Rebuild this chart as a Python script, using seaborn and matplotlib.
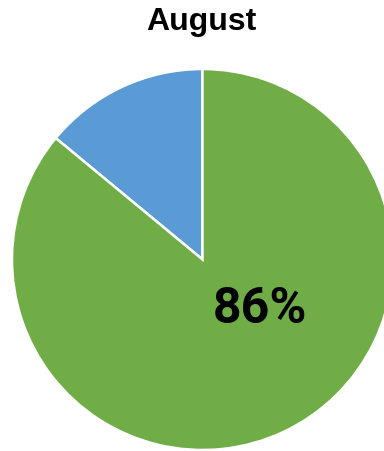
import matplotlib
matplotlib.use("Agg")
import matplotlib.pyplot as plt
import seaborn as sns

categories = ["Other", "Yes"]
values = [14, 86]
colors = ["#5B9BD5", "#70AD47"]
title = "August"
label_text = "86%"

sns.set_theme(style="white")
plt.rcParams["font.family"] = ["Liberation Sans", "DejaVu Sans"]

fig = plt.figure(figsize=(3.84, 4.51), dpi=100)
W, H = 384, 451
cx, cy, r = 202.5, 259.5, 190.5
ax = fig.add_axes([(cx - r) / W, 1 - (cy + r) / H, 2 * r / W, 2 * r / H])
ax.pie(values, colors=colors, startangle=90, counterclock=True,
       wedgeprops=dict(edgecolor="white", linewidth=1.8), radius=1)
ax.set_xlim(-1, 1)
ax.set_ylim(-1, 1)
ax.set_aspect("equal")
ax.axis("off")

ax.text(0.30, -0.26, label_text, ha="center", va="center", fontsize=36,
        fontweight="bold", family=["Roboto", "DejaVu Sans"],
        color="black")

fig.text(201.5 / W, 1 - 22 / H, title, ha="center", va="center",
         fontsize=23, fontweight="bold", color="black")

fig.savefig("out.png", dpi=100)
